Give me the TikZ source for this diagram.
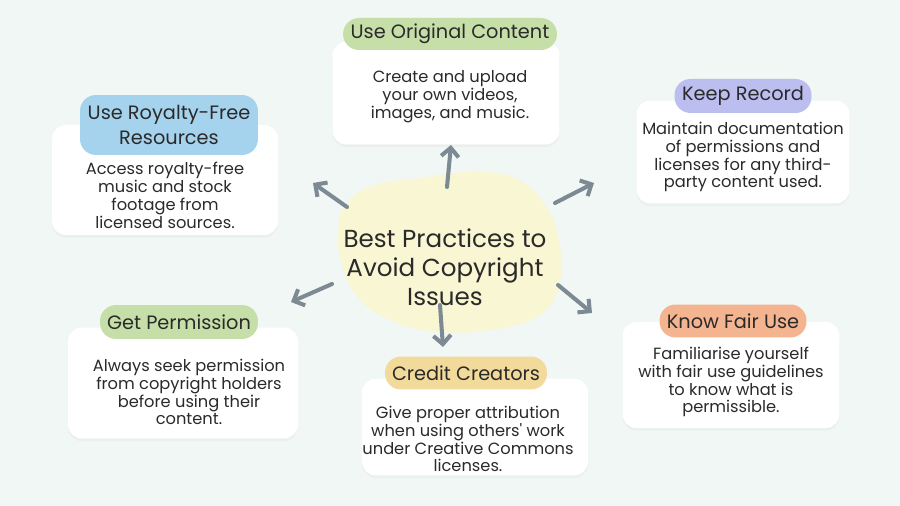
\documentclass[tikz,border=0pt]{standalone}
\usepackage{fontspec}
\setmainfont{Poppins}
\usetikzlibrary{arrows.meta,shadows}
\definecolor{bgmint}{HTML}{F1F7F5}
\definecolor{blobyellow}{HTML}{F8F6D3}
\definecolor{pillgreen}{HTML}{C6DFA9}
\definecolor{pillblue}{HTML}{A5D2EC}
\definecolor{pilllilac}{HTML}{BDBEF0}
\definecolor{pillpeach}{HTML}{F3B48F}
\definecolor{pillsand}{HTML}{F2DA9B}
\definecolor{arrowgray}{HTML}{7D8A93}
\definecolor{inkgray}{HTML}{2A2A2A}
\tikzset{
  card/.style={fill=white, rounded corners=0.28cm, inner sep=0pt,
    drop shadow={opacity=0.05, shadow xshift=0pt, shadow yshift=-1.5pt}},
  pill/.style={rounded corners=0.32cm, inner sep=0pt, text=inkgray,
    font=\fontsize{11}{14.6}\selectfont, align=center},
  note/.style={align=center, text=inkgray, inner sep=0pt,
    font=\fontsize{9.25}{10.2}\selectfont},
  pointer/.style={arrowgray, line width=2.3pt, line cap=round,
    -{Straight Barb[length=2pt 1.3, width=4pt 2.6]}}
}
\begin{document}
\begin{tikzpicture}[x=0.02cm, y=-0.02cm]
  \useasboundingbox[fill=bgmint] (0,0) rectangle (900,506);

  % centre blob
  \fill[blobyellow] plot[smooth cycle, tension=0.7] coordinates {
    (345,205) (372,186) (420,178) (470,172) (515,178) (545,205)
    (560,245) (558,290) (535,318) (490,330) (440,332) (395,322)
    (360,300) (342,265) (338,230)};
  \node[text=inkgray, align=center, inner sep=0pt,
    font=\fontsize{14}{16.4}\selectfont] (title) at (445,267)
    {Best Practices to\\Avoid Copyright\\Issues};

  % cards
  \node[card, minimum width=4.54cm, minimum height=2.06cm] (origcard) at (446,93) {};
  \node[card, minimum width=4.52cm, minimum height=2.2cm] (royalcard) at (165,180) {};
  \node[card, minimum width=4.26cm, minimum height=2.06cm] (keepcard) at (743,152) {};
  \node[card, minimum width=4.6cm, minimum height=2.22cm] (permcard) at (183,383) {};
  \node[card, minimum width=4.34cm, minimum height=2.12cm] (faircard) at (731,375) {};
  \node[card, minimum width=4.52cm, minimum height=1.94cm] (creditcard) at (475,427) {};

  % labels
  \node[pill, fill=pillgreen, minimum width=4.28cm, minimum height=0.64cm] (origpill) at (450,34) {Use Original Content};
  \node[pill, fill=pillblue, minimum width=3.56cm, minimum height=1.2cm] (royalpill) at (169,125) {Use Royalty-Free\\Resources};
  \node[pill, fill=pilllilac, minimum width=2.74cm, minimum height=0.68cm] (keeppill) at (743,96) {Keep Record};
  \node[pill, fill=pillgreen, minimum width=3.16cm, minimum height=0.68cm] (permpill) at (179,322) {Get Permission};
  \node[pill, fill=pillpeach, minimum width=2.94cm, minimum height=0.66cm] (fairpill) at (733,321) {Know Fair Use};
  \node[pill, fill=pillsand, minimum width=3.24cm, minimum height=0.66cm] (creditpill) at (466,373) {Credit Creators};

  % texts
  \node[note] (orignote) at (450,97) {Create and upload\\your own videos,\\images, and music.};
  \node[note] (royalnote) at (165,195) {Access royalty-free\\music and stock\\footage from\\licensed sources.};
  \node[note] (keepnote) at (743,157) {Maintain documentation\\of permissions and\\licenses for any third-\\party content used.};
  \node[note] (permnote) at (189,392) {Always seek permission\\from copyright holders\\before using their\\content.};
  \node[note] (fairnote) at (731,382) {Familiarise yourself\\with fair use guidelines\\to know what is\\permissible.};
  \node[note] (creditnote) at (468,439) {Give proper attribution\\when using others\textquotesingle{} work\\under Creative Commons\\licenses.};

  % arrows
  \coordinate (upfrom) at (447,187);   \coordinate (upto) at (451,145);
  \coordinate (ulfrom) at (347,207);   \coordinate (ulto) at (313,183);
  \coordinate (urfrom) at (555,203);   \coordinate (urto) at (594,183);
  \coordinate (lfrom) at (332,284);    \coordinate (lto) at (291,302);
  \coordinate (lrfrom) at (558,285);   \coordinate (lrto) at (592,313);
  \coordinate (dnfrom) at (440,305);   \coordinate (dnto) at (443,347);
  \draw[pointer] (upfrom) -- (upto);
  \draw[pointer] (ulfrom) -- (ulto);
  \draw[pointer] (urfrom) -- (urto);
  \draw[pointer] (lfrom) -- (lto);
  \draw[pointer] (lrfrom) -- (lrto);
  \draw[pointer] (dnfrom) -- (dnto);
\end{tikzpicture}
\end{document}
